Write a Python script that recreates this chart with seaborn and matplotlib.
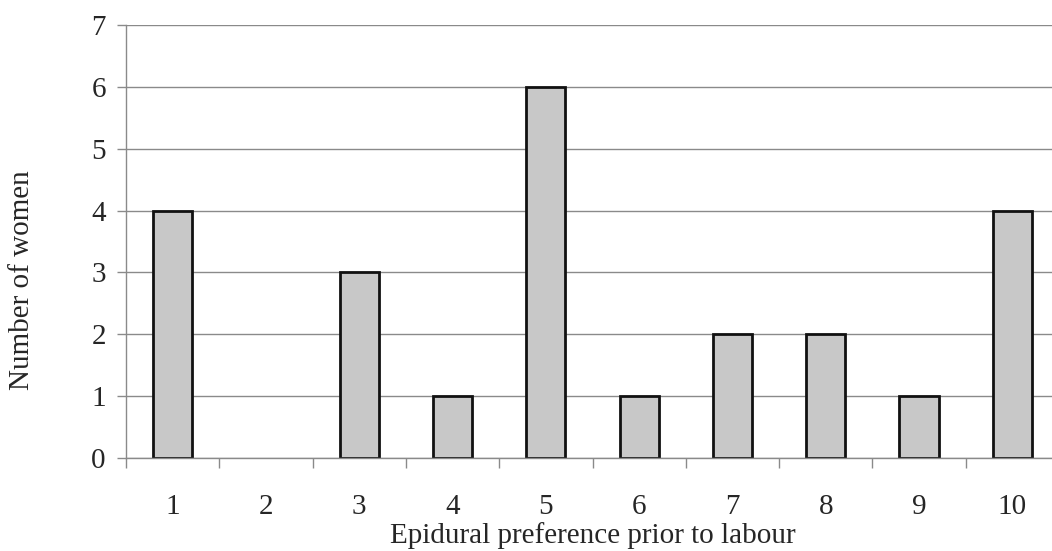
import matplotlib
matplotlib.use("Agg")
import matplotlib.pyplot as plt
import seaborn as sns
import pandas as pd
import numpy as np

# Epidural preference scores (1-10) and number of women at each score
scores = ["1", "2", "3", "4", "5", "6", "7", "8", "9", "10"]
counts = [4, 0, 3, 1, 6, 1, 2, 2, 1, 4]
y_ticks = [0, 1, 2, 3, 4, 5, 6, 7]

df = pd.DataFrame({"score": scores, "count": counts})

sns.set_style("white")
plt.rcParams["font.family"] = ["Liberation Serif", "DejaVu Serif"]

W, H = 1052, 551
fig = plt.figure(figsize=(W / 100, H / 100), dpi=100)
ax = fig.add_axes([126 / W, (H - 458) / H, 933 / W, 433 / H])

grid_col = "#8a8a8a"
ax.set_ylim(0, 7)
ax.set_yticks(y_ticks)
ax.yaxis.grid(True, color=grid_col, linewidth=1.0)
ax.set_axisbelow(True)

sns.barplot(data=df, x="score", y="count", order=scores, ax=ax,
            color="#c8c8c8", saturation=1, width=0.42,
            edgecolor="#111111", linewidth=2.0)

# empty categories get no visible bar outline
for patch in ax.patches:
    if patch.get_height() == 0:
        patch.set_visible(False)

ax.set_xlim(-0.5, len(scores) - 0.5)

for side in ["top", "right"]:
    ax.spines[side].set_visible(False)
ax.spines["left"].set_color(grid_col)
ax.spines["bottom"].set_color(grid_col)
ax.spines["left"].set_linewidth(1.0)
ax.spines["bottom"].set_linewidth(1.0)

# category separators as small ticks below the axis
ax.set_xticks(np.arange(-0.5, len(scores)), minor=True)
ax.tick_params(axis="x", which="major", length=0, pad=26, labelsize=21)
ax.tick_params(axis="x", which="minor", length=7, width=1, color=grid_col, direction="out", bottom=True)
ax.tick_params(axis="y", which="major", length=6.5, width=1, color=grid_col, direction="out",
               left=True, pad=8, labelsize=21)

ax.set_xlabel("Epidural preference prior to labour", fontsize=21)
ax.set_ylabel("Number of women", fontsize=21)
ax.xaxis.set_label_coords(0.5, -0.148)
ax.yaxis.set_label_coords(-0.098, 0.41)

fig.savefig("out.png", dpi=100, facecolor="white")
